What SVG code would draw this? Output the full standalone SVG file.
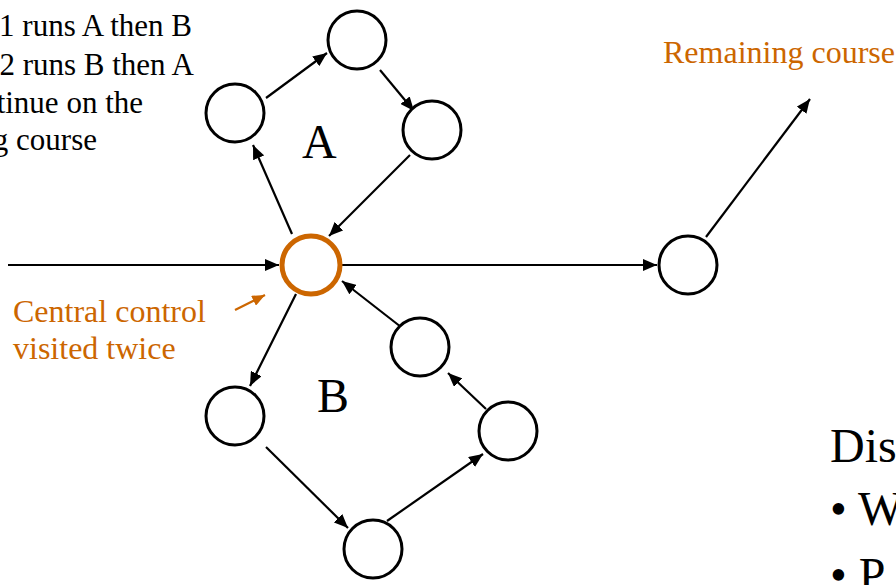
<svg xmlns="http://www.w3.org/2000/svg" width="896" height="585" viewBox="0 0 896 585">
<defs>
<style>
.n{fill:#fff;stroke:#000;stroke-width:3}
.c{fill:#fff;stroke:#CC6600;stroke-width:5}
.e{fill:none;stroke:#000;stroke-width:2.2;marker-end:url(#ah)}
.o{fill:none;stroke:#CC6600;stroke-width:2.2;marker-end:url(#ao)}
text{font-family:'Liberation Serif','Times New Roman',serif}
.k{fill:#000;font-size:31px}
.or{fill:#CC6600;font-size:32px}
.big{fill:#000;font-size:48px}
</style>
<marker id="ah" viewBox="0 0 14 12" refX="14" refY="6" markerWidth="14" markerHeight="12" markerUnits="userSpaceOnUse" orient="auto"><path d="M0,0L14,6L0,12z" fill="#000"/></marker>
<marker id="ao" viewBox="0 0 14 12" refX="14" refY="6" markerWidth="13" markerHeight="11" markerUnits="userSpaceOnUse" orient="auto"><path d="M0,0L14,6L0,12z" fill="#CC6600"/></marker>
</defs>
<rect width="896" height="585" fill="#fff"/>
<g id="connectors">
<path class="e" d="M8,265L279,265"/>
<path class="e" d="M342,265L657,265"/>
<path class="e" d="M706,237L810,99"/>
<path class="e" d="M292,234L253,145"/>
<path class="e" d="M266,98L327,53"/>
<path class="e" d="M380,70L414,111"/>
<path class="e" d="M410,155L329,236"/>
<path class="e" d="M296,294L250,386"/>
<path class="e" d="M266,447L348,528"/>
<path class="e" d="M387,521L483,454"/>
<path class="e" d="M486,409L448,373"/>
<path class="e" d="M401,327L342,281"/>
<path class="o" d="M235,310L265,295"/>
</g>
<g id="n_top"><circle class="n" cx="357" cy="40" r="29"/></g>
<g id="n_a_left"><circle class="n" cx="235" cy="113" r="29"/></g>
<g id="n_a_right"><circle class="n" cx="432" cy="130" r="29"/></g>
<g id="n_central"><circle class="c" cx="311" cy="265" r="29"/></g>
<g id="n_right"><circle class="n" cx="688" cy="265" r="29"/></g>
<g id="n_b_left"><circle class="n" cx="235" cy="416" r="29"/></g>
<g id="n_b_topright"><circle class="n" cx="420" cy="347" r="29"/></g>
<g id="n_b_right"><circle class="n" cx="508" cy="431" r="29"/></g>
<g id="n_b_bottom"><circle class="n" cx="373" cy="549" r="29"/></g>
<g id="labels">
<text class="k" x="192" y="36" text-anchor="end">1 runs A then B</text>
<text class="k" x="194" y="75" text-anchor="end">2 runs B then A</text>
<text class="k" x="143" y="113" text-anchor="end">tinue on the</text>
<text class="k" x="97" y="150" text-anchor="end">g course</text>
<text class="or" x="663" y="63">Remaining course</text>
<text class="or" x="13" y="322">Central control</text>
<text class="or" x="13" y="359">visited twice</text>
<text class="big" x="302" y="158">A</text>
<text class="big" x="317" y="412">B</text>
<text class="big" x="830" y="462">Dis</text>
<text class="big" x="830" y="525">• W</text>
<text class="big" x="830" y="591">• P</text>
</g>
</svg>
